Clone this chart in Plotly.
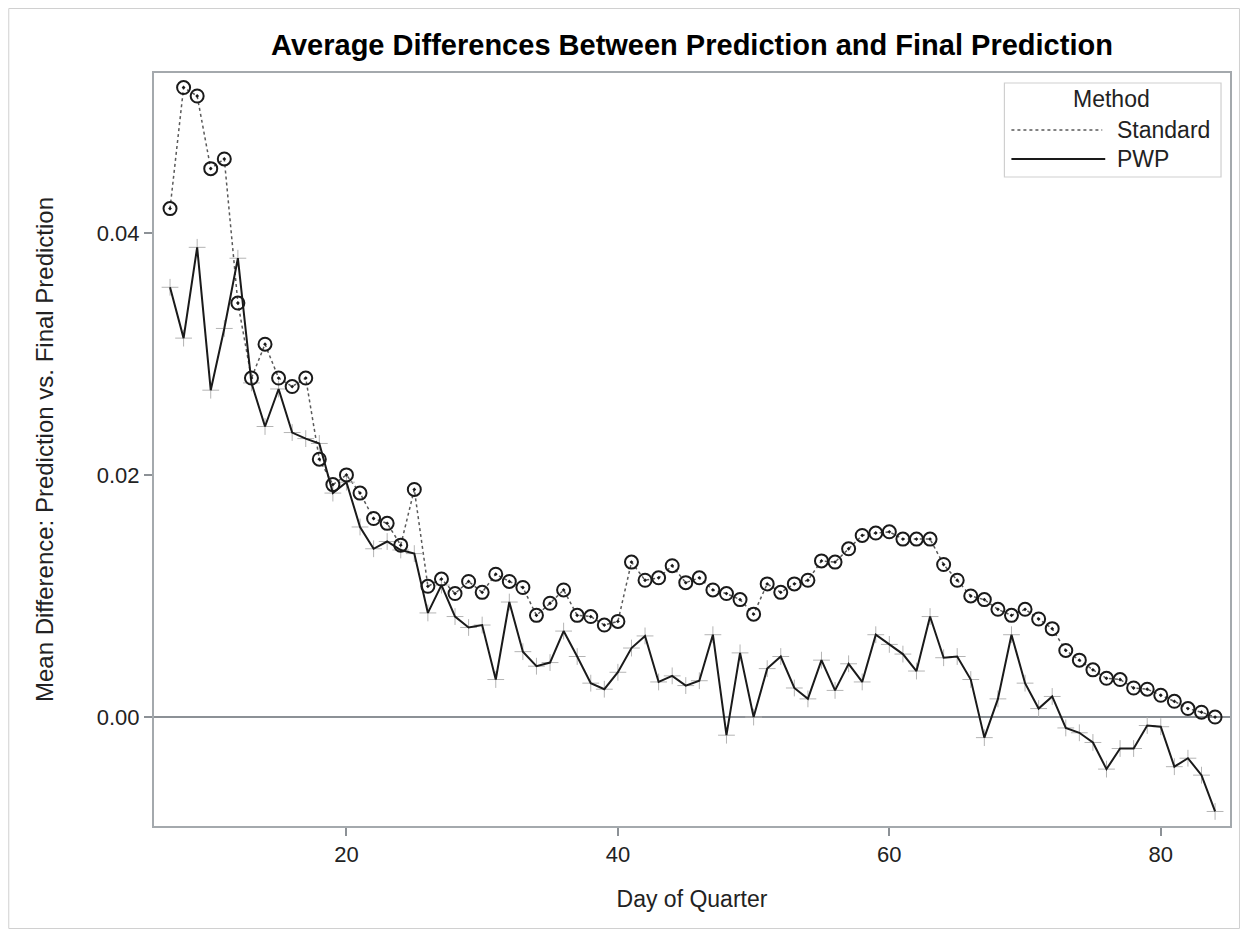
import plotly.graph_objects as go

days = [7, 8, 9, 10, 11, 12, 13, 14, 15, 16, 17, 18, 19, 20, 21, 22, 23, 24, 25, 26,
        27, 28, 29, 30, 31, 32, 33, 34, 35, 36, 37, 38, 39, 40, 41, 42, 43, 44, 45, 46,
        47, 48, 49, 50, 51, 52, 53, 54, 55, 56, 57, 58, 59, 60, 61, 62, 63, 64, 65, 66,
        67, 68, 69, 70, 71, 72, 73, 74, 75, 76, 77, 78, 79, 80, 81, 82, 83, 84]

standard = [0.0420, 0.0520, 0.0513, 0.0453, 0.0461, 0.0342, 0.0280, 0.0308, 0.0280, 0.0273,
            0.0280, 0.0213, 0.0192, 0.0200, 0.0185, 0.0164, 0.0160, 0.0142, 0.0188, 0.0108,
            0.0114, 0.0102, 0.0112, 0.0103, 0.0118, 0.0112, 0.0107, 0.0084, 0.0094, 0.0105,
            0.0084, 0.0083, 0.0076, 0.0079, 0.0128, 0.0113, 0.0115, 0.0125, 0.0111, 0.0115,
            0.0105, 0.0102, 0.0097, 0.0085, 0.0110, 0.0103, 0.0110, 0.0113, 0.0129, 0.0128,
            0.0139, 0.0150, 0.0152, 0.0153, 0.0147, 0.0147, 0.0147, 0.0126, 0.0113, 0.0100,
            0.0097, 0.0089, 0.0084, 0.0089, 0.0081, 0.0073, 0.0055, 0.0047, 0.0039, 0.0032,
            0.0031, 0.0024, 0.0023, 0.0018, 0.0013, 0.0007, 0.0004, 0.0000]

pwp = [0.0355, 0.0313, 0.0388, 0.0270, 0.0321, 0.0379, 0.0276, 0.0240, 0.0271, 0.0235,
       0.0230, 0.0226, 0.0185, 0.0194, 0.0157, 0.0139, 0.0145, 0.0138, 0.0135, 0.0086,
       0.0109, 0.0083, 0.0074, 0.0076, 0.0031, 0.0095, 0.0054, 0.0042, 0.0045, 0.0071,
       0.0050, 0.0028, 0.0023, 0.0037, 0.0057, 0.0067, 0.0029, 0.0034, 0.0026, 0.0030,
       0.0068, -0.0015, 0.0053, 0.0000, 0.0040, 0.0050, 0.0024, 0.0015, 0.0047, 0.0022,
       0.0044, 0.0029, 0.0068, 0.0060, 0.0052, 0.0038, 0.0083, 0.0049, 0.0050, 0.0031,
       -0.0017, 0.0015, 0.0068, 0.0028, 0.0007, 0.0017, -0.0009, -0.0013, -0.0021, -0.0043,
       -0.0026, -0.0026, -0.0007, -0.0008, -0.0041, -0.0034, -0.0048, -0.0078]

x_ticks = [20, 40, 60, 80]
y_ticks = [0.00, 0.02, 0.04]
y_tick_labels = ["0.00", "0.02", "0.04"]

series_names = ["Standard", "PWP"]
legend_title = "Method"
title_text = "Average Differences Between Prediction and Final Prediction"
x_title = "Day of Quarter"
y_title = "Mean Difference: Prediction vs. Final Prediction"

FONT = "Liberation Sans, Arial, sans-serif"
TXT = "#222222"

fig = go.Figure()

# Standard: dotted connecting line
fig.add_trace(go.Scatter(x=days, y=standard, mode="lines", name=series_names[0],
                         line=dict(color="#5a5a5a", width=1.5, dash="dot"),
                         showlegend=False, hoverinfo="skip"))
# PWP: light plus markers
fig.add_trace(go.Scatter(x=days, y=pwp, mode="markers", name=series_names[1],
                         marker=dict(symbol="cross-thin-open", size=12, color="#b4b4b4",
                                     line=dict(color="#b4b4b4", width=1)),
                         showlegend=False))
# PWP: solid line
fig.add_trace(go.Scatter(x=days, y=pwp, mode="lines", name=series_names[1],
                         line=dict(color="#1a1a1a", width=2),
                         showlegend=False))
# Standard: circle markers
fig.add_trace(go.Scatter(x=days, y=standard, mode="markers", name=series_names[0],
                         marker=dict(symbol="circle-open-dot", size=13, color="#1a1a1a",
                                     line=dict(color="#1a1a1a", width=2)),
                         showlegend=False))

# page body has an 8px margin; figure sized so the page fits the window
OFF = 8
W, H = 1234, 921
L = 154 - OFF
T = 73 - OFF
R = W - (1232 - OFF)
B = H - (826 - OFF)
PW, PH = W - L - R, H - T - B


def px(xr):
    return (xr - OFF - L) / PW


def py(yr):
    return (H - B - (yr - OFF)) / PH


shapes = []
annotations = []

# outer image border
shapes.append(dict(type="rect", xref="paper", yref="paper",
                   x0=px(8.5), x1=px(1241.5), y0=py(928.5), y1=py(8.5),
                   line=dict(color="#d0d0d0", width=1), layer="below"))

# legend box
shapes.append(dict(type="rect", xref="paper", yref="paper",
                   x0=px(1006), x1=px(1223), y0=py(177), y1=py(83),
                   line=dict(color="#cfcfcf", width=1.2), fillcolor="white"))
annotations.append(dict(xref="paper", yref="paper", x=px(1113), y=py(99),
                        text=legend_title, showarrow=False, xanchor="center", yanchor="middle",
                        font=dict(family=FONT, size=23, color=TXT)))
shapes.append(dict(type="line", xref="paper", yref="paper",
                   x0=px(1013), x1=px(1104), y0=py(130), y1=py(130),
                   line=dict(color="#5a5a5a", width=1.5, dash="dot")))
annotations.append(dict(xref="paper", yref="paper", x=px(1117), y=py(130),
                        text=series_names[0], showarrow=False, xanchor="left", yanchor="middle",
                        font=dict(family=FONT, size=23, color=TXT)))
shapes.append(dict(type="line", xref="paper", yref="paper",
                   x0=px(1013), x1=px(1107), y0=py(159), y1=py(159),
                   line=dict(color="#1a1a1a", width=2)))
annotations.append(dict(xref="paper", yref="paper", x=px(1117), y=py(159),
                        text=series_names[1], showarrow=False, xanchor="left", yanchor="middle",
                        font=dict(family=FONT, size=23, color=TXT)))

fig.update_layout(
    width=W, height=H,
    margin=dict(l=L, r=R, t=T, b=B, pad=0),
    paper_bgcolor="white", plot_bgcolor="white",
    showlegend=False,
    title=dict(text="<b>" + title_text + "</b>", x=0.5, xref="paper", xanchor="center",
               y=1 - (45 - OFF) / H, yref="container", yanchor="middle",
               font=dict(family=FONT, size=29, color="#000000")),
    font=dict(family=FONT, color=TXT),
    shapes=shapes,
    annotations=annotations,
)

fig.update_xaxes(range=[5.82, 85.1], tickvals=x_ticks, ticks="outside", ticklen=8,
                 tickcolor="#8c9196", tickwidth=1.5,
                 showgrid=False, zeroline=False,
                 showline=True, mirror=True, linecolor="#a4a9ad", linewidth=2,
                 tickfont=dict(family=FONT, size=22, color=TXT),
                 title=dict(text=x_title, standoff=24,
                            font=dict(family=FONT, size=23, color=TXT)))
fig.update_yaxes(range=[-0.0090, 0.0532], tickvals=y_ticks, ticktext=y_tick_labels,
                 ticks="outside", ticklen=8, tickcolor="#8c9196", tickwidth=1.5,
                 showgrid=False, zeroline=True, zerolinecolor="#8c9196", zerolinewidth=1.5,
                 showline=True, mirror=True, linecolor="#a4a9ad", linewidth=2,
                 tickfont=dict(family=FONT, size=22, color=TXT),
                 title=dict(text=y_title, standoff=36,
                            font=dict(family=FONT, size=24, color=TXT)))

fig.write_html("out.html")
